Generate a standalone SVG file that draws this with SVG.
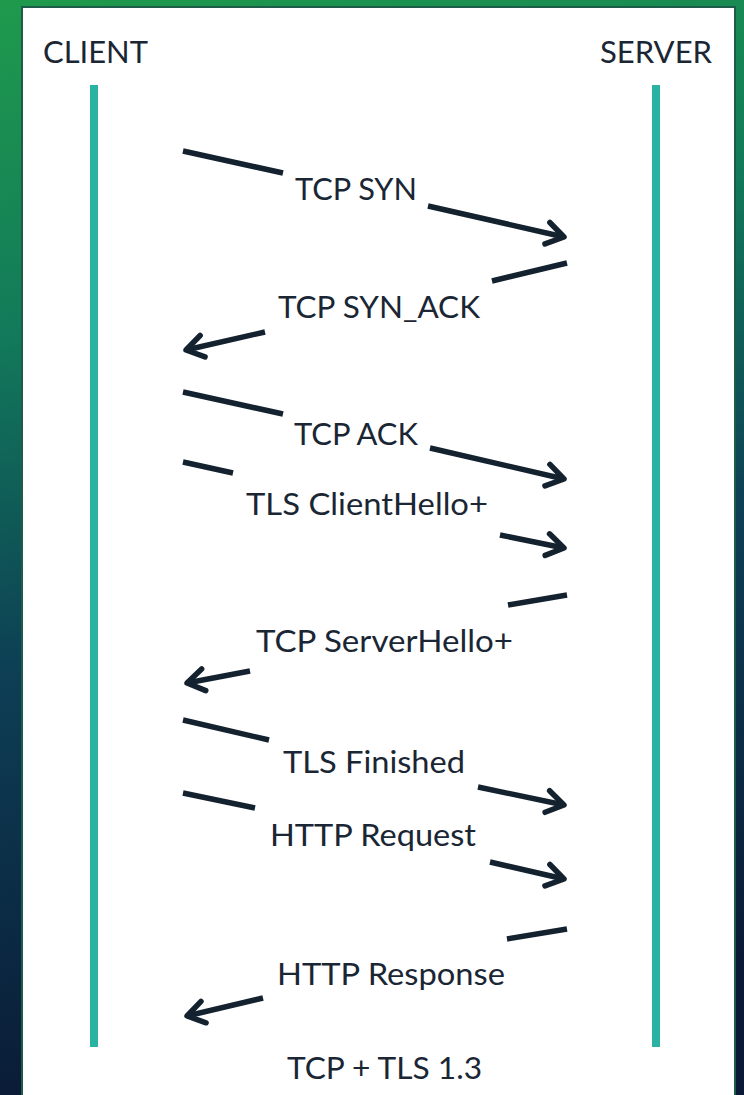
<svg xmlns="http://www.w3.org/2000/svg" width="744" height="1095" viewBox="0 0 744 1095">
  <defs>
    <linearGradient id="bg" x1="0" y1="0" x2="0.15" y2="1">
      <stop offset="0" stop-color="#1f9a4c"/>
      <stop offset="0.3" stop-color="#127a5a"/>
      <stop offset="0.6" stop-color="#0d3f55"/>
      <stop offset="1" stop-color="#0a1a36"/>
    </linearGradient>
    <marker id="ah" markerUnits="userSpaceOnUse" viewBox="-30 -20 40 40" refX="0" refY="0" markerWidth="40" markerHeight="40" orient="auto" overflow="visible">
      <path d="M-17,-11 L0,0 L-17,11" fill="none" stroke="#14222f" stroke-width="5.5" stroke-linecap="round" stroke-linejoin="round"/>
    </marker>
    <style>
      .lbl { font-family: Lato, "Liberation Sans", sans-serif; font-size: 31px; fill: #1a2634; }
      .life { fill: #2ab3a3; }
      .seg { stroke: #14222f; stroke-width: 5.5; fill: none; stroke-linecap: butt; }
      .arr { marker-end: url(#ah); }
    </style>
  </defs>
  <rect x="0" y="0" width="744" height="1095" fill="url(#bg)"/>
  <rect x="22" y="7" width="713" height="1100" fill="#ffffff" stroke="#1c5c48" stroke-width="2"/>

  <g id="client">
    <text class="lbl" x="43" y="63" textLength="105" lengthAdjust="spacingAndGlyphs">CLIENT</text>
    <rect class="life" x="90" y="85" width="8" height="962"/>
  </g>
  <g id="server">
    <text class="lbl" x="600" y="63" textLength="112" lengthAdjust="spacingAndGlyphs">SERVER</text>
    <rect class="life" x="652" y="85" width="8" height="962"/>
  </g>

  <g id="connectors">
    <line class="seg" x1="183" y1="151" x2="283" y2="173"/>
    <line class="seg arr" x1="428" y1="206" x2="564" y2="237"/>

    <line class="seg" x1="567" y1="263" x2="492" y2="281"/>
    <line class="seg arr" x1="265" y1="332" x2="186" y2="350"/>

    <line class="seg" x1="183" y1="392" x2="283" y2="414"/>
    <line class="seg arr" x1="430" y1="448" x2="564" y2="479"/>

    <line class="seg" x1="183" y1="462" x2="233" y2="473"/>
    <line class="seg arr" x1="500" y1="535" x2="564" y2="548"/>

    <line class="seg" x1="567" y1="595" x2="508" y2="605"/>
    <line class="seg arr" x1="250" y1="671" x2="187" y2="683"/>

    <line class="seg" x1="183" y1="720" x2="269" y2="740"/>
    <line class="seg arr" x1="478" y1="787" x2="564" y2="805"/>

    <line class="seg" x1="183" y1="793" x2="255" y2="808"/>
    <line class="seg arr" x1="490" y1="862" x2="564" y2="879"/>

    <line class="seg" x1="567" y1="929" x2="507" y2="939"/>
    <line class="seg arr" x1="263" y1="998" x2="187" y2="1016"/>
  </g>

  <g id="labels">
    <text id="m1" class="lbl" x="295" y="200" textLength="122" lengthAdjust="spacingAndGlyphs">TCP SYN</text>
    <text id="m2" class="lbl" x="278" y="318" textLength="202" lengthAdjust="spacingAndGlyphs">TCP SYN_ACK</text>
    <text id="m3" class="lbl" x="294" y="445" textLength="124" lengthAdjust="spacingAndGlyphs">TCP ACK</text>
    <text id="m4" class="lbl" x="246" y="515" textLength="242" lengthAdjust="spacingAndGlyphs">TLS ClientHello+</text>
    <text id="m5" class="lbl" x="256" y="652" textLength="257" lengthAdjust="spacingAndGlyphs">TCP ServerHello+</text>
    <text id="m6" class="lbl" x="283" y="773" textLength="182" lengthAdjust="spacingAndGlyphs">TLS Finished</text>
    <text id="m7" class="lbl" x="270" y="846" textLength="206" lengthAdjust="spacingAndGlyphs">HTTP Request</text>
    <text id="m8" class="lbl" x="277" y="985" textLength="228" lengthAdjust="spacingAndGlyphs">HTTP Response</text>
    <text id="caption" class="lbl" x="287" y="1079" textLength="195" lengthAdjust="spacingAndGlyphs">TCP + TLS 1.3</text>
  </g>
</svg>
